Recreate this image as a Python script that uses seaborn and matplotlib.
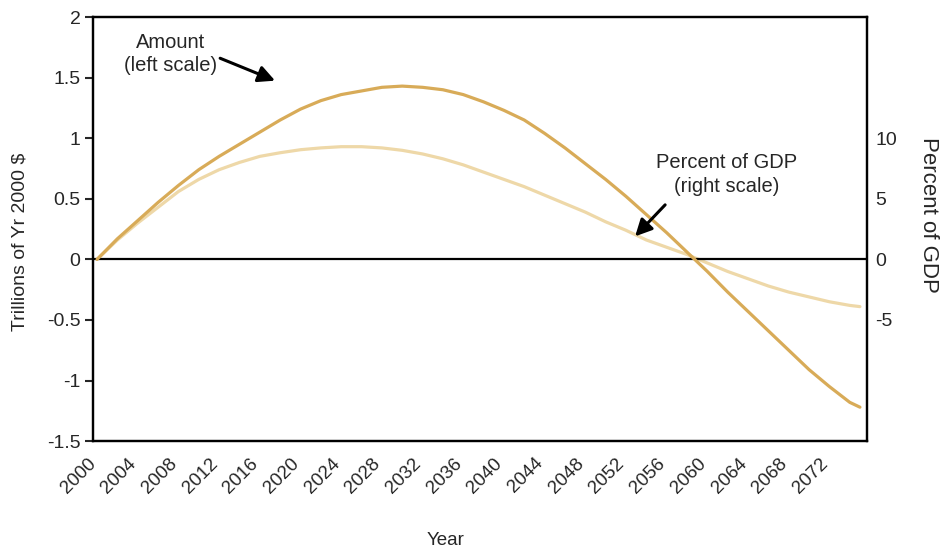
import matplotlib
matplotlib.use("Agg")
import matplotlib.pyplot as plt
import matplotlib.transforms as mtransforms
import seaborn as sns
import pandas as pd

years = [2000, 2002, 2004, 2006, 2008, 2010, 2012, 2014, 2016, 2018,
         2020, 2022, 2024, 2026, 2028, 2030, 2032, 2034, 2036, 2038,
         2040, 2042, 2044, 2046, 2048, 2050, 2052, 2054, 2056, 2058,
         2060, 2062, 2064, 2066, 2068, 2070, 2072, 2074, 2075]

# trillions of year-2000 dollars (left scale)
amount = [0.0, 0.17, 0.32, 0.47, 0.61, 0.74, 0.85, 0.95, 1.05, 1.15,
          1.24, 1.31, 1.36, 1.39, 1.42, 1.43, 1.42, 1.40, 1.36, 1.30,
          1.23, 1.15, 1.04, 0.92, 0.79, 0.66, 0.52, 0.37, 0.22, 0.06,
          -0.10, -0.27, -0.43, -0.59, -0.75, -0.91, -1.05, -1.18, -1.22]

# percent of GDP (right scale)
pct_gdp = [0.0, 1.6, 3.0, 4.3, 5.6, 6.6, 7.4, 8.0, 8.5, 8.8,
           9.05, 9.2, 9.3, 9.3, 9.2, 9.0, 8.7, 8.3, 7.8, 7.2,
           6.6, 6.0, 5.3, 4.6, 3.9, 3.1, 2.4, 1.6, 1.0, 0.4,
           -0.3, -1.0, -1.6, -2.2, -2.7, -3.1, -3.5, -3.8, -3.9]

left_ticks = [-1.5, -1, -0.5, 0, 0.5, 1, 1.5, 2]
left_labels = ["-1.5", "-1", "-0.5", "0", "0.5", "1", "1.5", "2"]
right_ticks = [-5, 0, 5, 10]
right_labels = ["-5", "0", "5", "10"]
year_ticks = list(range(2000, 2073, 4))

df = pd.DataFrame({"year": years, "amount": amount, "pct": pct_gdp})

sns.set_style("white")
plt.rcParams["font.family"] = ["Liberation Sans", "DejaVu Sans"]

dark = "#D8AB58"
light = "#EED8A8"

fig = plt.figure(figsize=(9.45, 5.5), dpi=100)
ax = fig.add_axes([0.0984, 0.198, 0.8191, 0.771])
ax2 = ax.twinx()

sns.lineplot(data=df, x="year", y="pct", ax=ax2, color=light, lw=2.3)
sns.lineplot(data=df, x="year", y="amount", ax=ax, color=dark, lw=2.3)

ax.axhline(0, color="black", lw=1.6, zorder=1)

ax.set_xlim(1999.6, 2075.7)
ax.set_ylim(-1.5, 2)
ax2.set_ylim(-15, 20)

ax.set_yticks(left_ticks)
ax.set_yticklabels(left_labels)
ax.set_xticks(year_ticks)
ax.set_xticklabels([str(y) for y in year_ticks], rotation=45, ha="right",
                   rotation_mode="anchor")
ax2.set_yticks(right_ticks)
ax2.set_yticklabels(right_labels)

for a in (ax, ax2):
    for s in a.spines.values():
        s.set_color("black")
        s.set_linewidth(1.6)

ax.tick_params(axis="y", direction="out", length=6, width=1.5, labelsize=14, pad=3)
ax.tick_params(axis="x", direction="out", length=6, width=1.5, labelsize=13.5, pad=6)
ax2.tick_params(axis="y", length=0, labelsize=14, pad=6)

# nudge the rotated year labels left, like the original
shift = mtransforms.ScaledTranslation(-0.10, 0.03, fig.dpi_scale_trans)
for tick in ax.xaxis.get_major_ticks():
    tick.label1.set_transform(tick.label1.get_transform() + shift)

ax.set_xlabel("Year", fontsize=13.5)
ax.xaxis.set_label_coords(0.455, -0.215)
ax.set_ylabel("Trillions of Yr 2000 $", fontsize=14)
ax.yaxis.set_label_coords(-0.083, 0.469)
ax2.set_ylabel("Percent of GDP", fontsize=16, rotation=270, va="center")
ax2.yaxis.set_label_coords(1.079, 0.533)

arrow = dict(arrowstyle="-|>,head_length=1.0,head_width=0.5",
             color="black", lw=2.2, shrinkA=0, shrinkB=0)

ax.text(2007.2, 1.695, "Amount\n(left scale)", ha="center", va="center",
        fontsize=14.5, linespacing=1.3)
ax.annotate("", xy=(2017.5, 1.475), xytext=(2012.1, 1.66), arrowprops=arrow)

ax.text(2061.9, 0.70, "Percent of GDP\n(right scale)", ha="center", va="center",
        fontsize=14.5, linespacing=1.3)
ax.annotate("", xy=(2052.9, 0.19), xytext=(2055.85, 0.45), arrowprops=arrow)

ax.set_zorder(ax2.get_zorder() + 1)
ax.patch.set_visible(False)

fig.savefig("out.png", dpi=100)
